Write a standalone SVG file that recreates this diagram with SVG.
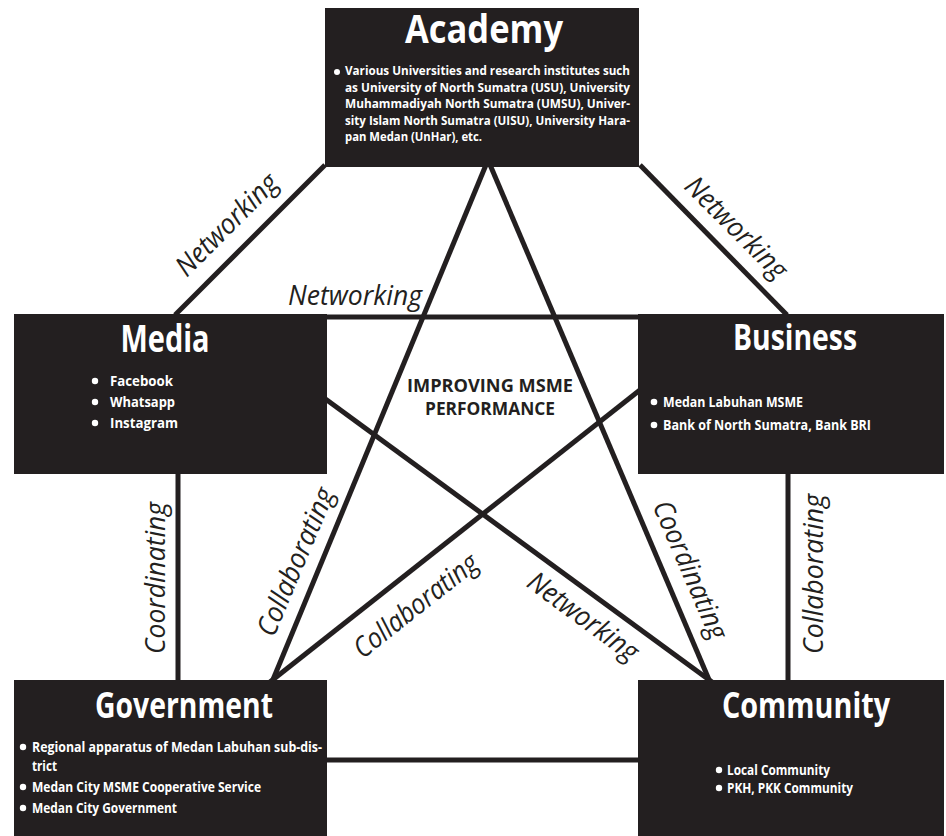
<svg xmlns="http://www.w3.org/2000/svg" width="946" height="836" viewBox="0 0 946 836">
  <style>
    .box { fill: #231f20; }
    .link { stroke: #231f20; stroke-width: 5; fill: none; }
    .title { font-family: "Open Sans", "Liberation Sans", sans-serif; font-weight: 700; fill: #ffffff; text-anchor: middle; }
    .item { font-family: "Open Sans", "Liberation Sans", sans-serif; font-weight: 700; font-size: 14px; fill: #ffffff; }
    .small { font-size: 13px; }
    .dot { fill: #ffffff; }
    .lbl { font-family: "Open Sans", "Liberation Sans", sans-serif; font-weight: 400; font-style: italic; font-size: 28px; fill: #231f20; text-anchor: middle; }
    .center { font-family: "Open Sans", "Liberation Sans", sans-serif; font-weight: 700; font-size: 18px; fill: #231f20; text-anchor: middle; }
  </style>

  <!-- connectors -->
  <g id="connectors">
    <line class="link" x1="325" y1="165" x2="175" y2="315"/>
    <line class="link" x1="640" y1="165" x2="787" y2="315"/>
    <line class="link" x1="320" y1="317" x2="645" y2="317"/>
    <line class="link" x1="178" y1="470" x2="178" y2="685"/>
    <line class="link" x1="788" y1="470" x2="788" y2="685"/>
    <line class="link" x1="320" y1="760" x2="645" y2="760"/>
    <line class="link" x1="488" y1="160" x2="272" y2="682"/>
    <line class="link" x1="488" y1="160" x2="710" y2="682"/>
    <line class="link" x1="320" y1="395" x2="712" y2="682"/>
    <line class="link" x1="645" y1="386" x2="270" y2="682"/>

    <text class="lbl" transform="translate(227,225) rotate(-45)" y="9" textLength="132" lengthAdjust="spacingAndGlyphs">Networking</text>
    <text class="lbl" x="355" y="305" textLength="134" lengthAdjust="spacingAndGlyphs">Networking</text>
    <text class="lbl" transform="translate(736,228) rotate(45)" y="9" textLength="132" lengthAdjust="spacingAndGlyphs">Networking</text>
    <text class="lbl" transform="translate(156,578) rotate(-90)" y="9" textLength="152" lengthAdjust="spacingAndGlyphs">Coordinating</text>
    <text class="lbl" transform="translate(814,574) rotate(-90)" y="9" textLength="160" lengthAdjust="spacingAndGlyphs">Collaborating</text>
    <text class="lbl" transform="translate(296,562) rotate(-67.2)" y="9" textLength="158" lengthAdjust="spacingAndGlyphs">Collaborating</text>
    <text class="lbl" transform="translate(416,606) rotate(-38.2)" y="9" textLength="150" lengthAdjust="spacingAndGlyphs">Collaborating</text>
    <text class="lbl" transform="translate(583,617) rotate(36.2)" y="9" textLength="130" lengthAdjust="spacingAndGlyphs">Networking</text>
    <text class="lbl" transform="translate(690,570) rotate(66.6)" y="9" textLength="148" lengthAdjust="spacingAndGlyphs">Coordinating</text>
  </g>

  <!-- central goal -->
  <g id="goal">
    <text class="center" x="490" y="392" textLength="166" lengthAdjust="spacingAndGlyphs">IMPROVING MSME</text>
    <text class="center" x="490" y="415" textLength="130" lengthAdjust="spacingAndGlyphs">PERFORMANCE</text>
  </g>

  <!-- Academy -->
  <g id="academy">
    <rect class="box" x="325" y="8" width="314" height="159"/>
    <text class="title" x="484" y="43" font-size="40" textLength="158" lengthAdjust="spacingAndGlyphs">Academy</text>
    <circle class="dot" cx="337" cy="72" r="3"/>
    <text class="item small" x="345" y="75" textLength="285" lengthAdjust="spacingAndGlyphs">Various Universities and research institutes such</text>
    <text class="item small" x="345" y="91.5" textLength="285" lengthAdjust="spacingAndGlyphs">as University of North Sumatra (USU), University</text>
    <text class="item small" x="345" y="108" textLength="285" lengthAdjust="spacingAndGlyphs">Muhammadiyah  North Sumatra (UMSU), Univer-</text>
    <text class="item small" x="345" y="124.5" textLength="285" lengthAdjust="spacingAndGlyphs">sity Islam North Sumatra (UISU), University Hara-</text>
    <text class="item small" x="345" y="141" textLength="137" lengthAdjust="spacingAndGlyphs">pan Medan (UnHar), etc.</text>
  </g>

  <!-- Media -->
  <g id="media">
    <rect class="box" x="14" y="314" width="313" height="160"/>
    <text class="title" x="165" y="352" font-size="37" textLength="89" lengthAdjust="spacingAndGlyphs">Media</text>
    <circle class="dot" cx="95" cy="381" r="3.2"/>
    <circle class="dot" cx="95" cy="402" r="3.2"/>
    <circle class="dot" cx="95" cy="423" r="3.2"/>
    <text class="item" x="110" y="386" font-size="15" textLength="63" lengthAdjust="spacingAndGlyphs">Facebook</text>
    <text class="item" x="110" y="407" font-size="15" textLength="65" lengthAdjust="spacingAndGlyphs">Whatsapp</text>
    <text class="item" x="110" y="428" font-size="15" textLength="68" lengthAdjust="spacingAndGlyphs">Instagram</text>
  </g>

  <!-- Business -->
  <g id="business">
    <rect class="box" x="638" y="314" width="306" height="160"/>
    <text class="title" x="795" y="350" font-size="36" textLength="124" lengthAdjust="spacingAndGlyphs">Business</text>
    <circle class="dot" cx="654" cy="402" r="3.3"/>
    <circle class="dot" cx="654" cy="425" r="3.3"/>
    <text class="item" x="663" y="407" textLength="140" lengthAdjust="spacingAndGlyphs">Medan Labuhan MSME</text>
    <text class="item" x="663" y="430" textLength="208" lengthAdjust="spacingAndGlyphs">Bank of North Sumatra, Bank BRI</text>
  </g>

  <!-- Government -->
  <g id="government">
    <rect class="box" x="14" y="680" width="313" height="156"/>
    <text class="title" x="184" y="718" font-size="36" textLength="178" lengthAdjust="spacingAndGlyphs">Government</text>
    <circle class="dot" cx="23" cy="747" r="3.2"/>
    <circle class="dot" cx="23" cy="787" r="3.2"/>
    <circle class="dot" cx="23" cy="808" r="3.2"/>
    <text class="item" x="32" y="752" textLength="290" lengthAdjust="spacingAndGlyphs">Regional apparatus of Medan Labuhan sub-dis-</text>
    <text class="item" x="32" y="771" textLength="25" lengthAdjust="spacingAndGlyphs">trict</text>
    <text class="item" x="32" y="792" textLength="229" lengthAdjust="spacingAndGlyphs">Medan City MSME Cooperative Service</text>
    <text class="item" x="32" y="813" textLength="145" lengthAdjust="spacingAndGlyphs">Medan City Government</text>
  </g>

  <!-- Community -->
  <g id="community">
    <rect class="box" x="638" y="680" width="306" height="156"/>
    <text class="title" x="806" y="718" font-size="36" textLength="168" lengthAdjust="spacingAndGlyphs">Community</text>
    <circle class="dot" cx="719" cy="770" r="3.2"/>
    <circle class="dot" cx="719" cy="788" r="3.2"/>
    <text class="item" x="727" y="775" textLength="103" lengthAdjust="spacingAndGlyphs">Local Community</text>
    <text class="item" x="727" y="793" textLength="126" lengthAdjust="spacingAndGlyphs">PKH, PKK Community</text>
  </g>
</svg>
